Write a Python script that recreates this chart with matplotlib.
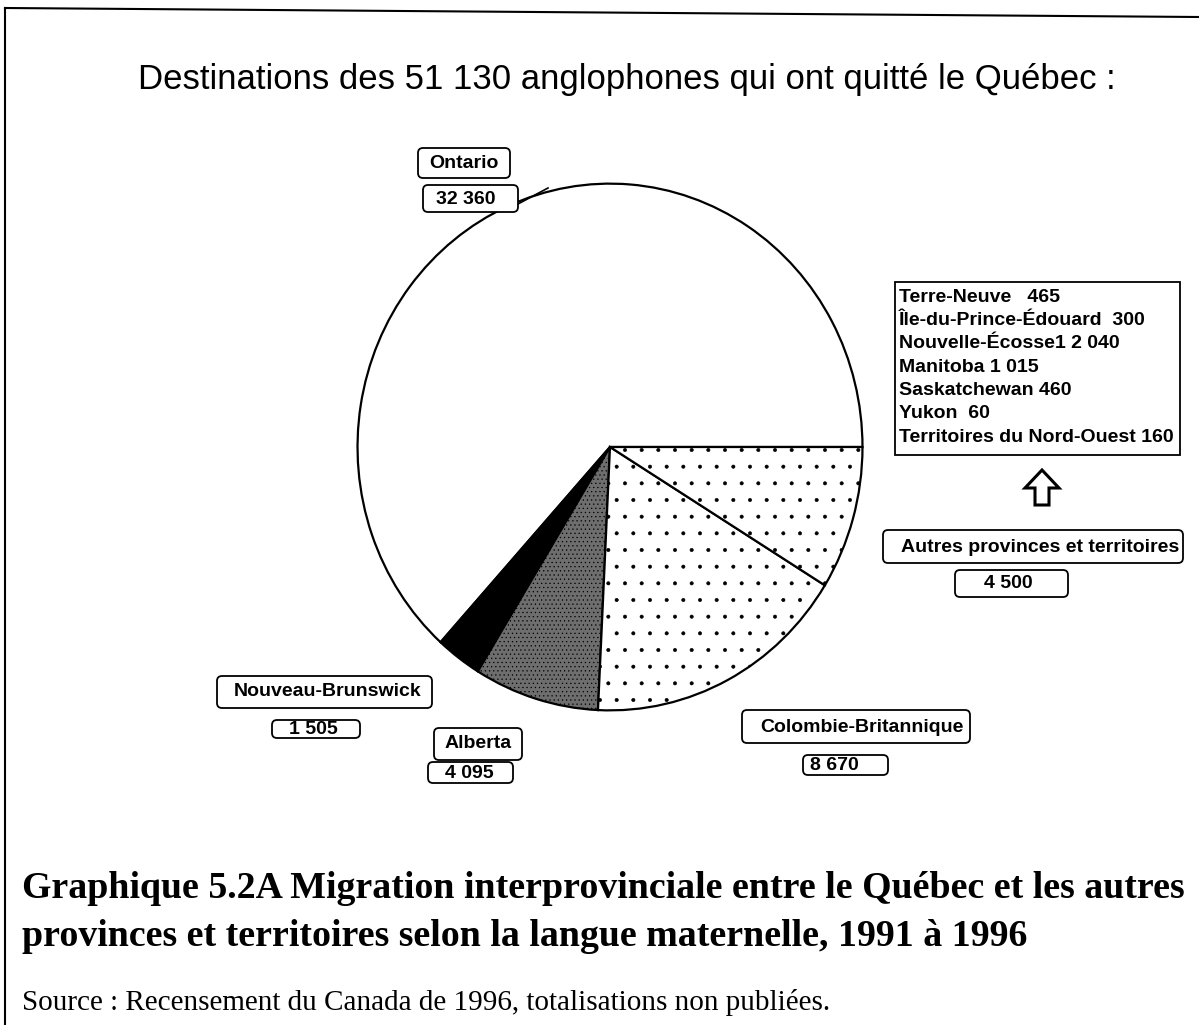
import matplotlib
matplotlib.use("Agg")
import matplotlib.pyplot as plt
from matplotlib.patches import FancyBboxPatch, Polygon, Rectangle

# ---- data ----
provinces = ["Ontario", "Nouveau-Brunswick", "Alberta", "Colombie-Britannique",
             "Autres provinces et territoires"]
values = [32360, 1505, 4095, 8670, 4500]
total = 51130
autres_lines = ["Terre-Neuve   465", "Île-du-Prince-Édouard  300",
                "Nouvelle-Écosse1 2 040", "Manitoba 1 015", "Saskatchewan 460",
                "Yukon  60", "Territoires du Nord-Ouest 160"]

def fmt(v):
    return f"{v:,}".replace(",", " ")

W, H = 1199, 1025
fig = plt.figure(figsize=(W / 100, H / 100), dpi=100)
fig.patch.set_facecolor("white")
plt.rcParams["hatch.color"] = "black"
plt.rcParams["hatch.linewidth"] = 0.4

sans = "Liberation Sans"
serif = "Liberation Serif"

# ---- pie ----
cx, cy, rx, ry = 610, 447, 255, 266
pax = fig.add_axes([(cx - rx) / W, 1 - (cy + ry) / H, 2 * rx / W, 2 * ry / H])
pax.set_zorder(1)
wedges, _ = pax.pie(values, startangle=0, counterclock=True,
                    colors=["white", "black", "#6e6e6e", "white", "white"],
                    wedgeprops=dict(edgecolor="black", linewidth=1.6))
hatches = [None, None, "....", ".", "."]
for w, h in zip(wedges, hatches):
    if h:
        w.set_hatch(h)
pax.set_aspect("auto")
pax.set_xlim(-1.01, 1.01)
pax.set_ylim(-1.01, 1.01)
pax.axis("off")

# ---- overlay for text / boxes ----
ov = fig.add_axes([0, 0, 1, 1])
ov.set_zorder(2)
ov.patch.set_alpha(0)
ov.set_xlim(0, W)
ov.set_ylim(H, 0)
ov.axis("off")

# frame (scanned page border)
ov.plot([5, 1199], [8, 17], color="black", lw=1.5)
ov.plot([5, 5], [8, 1025], color="black", lw=1.5)

ov.text(627, 80, f"Destinations des {fmt(total)} anglophones qui ont quitté le Québec :",
        ha="center", va="center", fontsize=25, family=sans)

def box(x0, y0, x1, y1, lw=1.3):
    p = FancyBboxPatch((x0, y0), x1 - x0, y1 - y0,
                       boxstyle="round,pad=0,rounding_size=5",
                       fc="white", ec="black", lw=lw, zorder=3)
    ov.add_patch(p)

def label(x0, y0, x1, y1, tx, ty, s, ha="center", fs=14):
    box(x0, y0, x1, y1)
    ov.text(tx, ty, s, ha=ha, va="center", fontsize=fs, family=sans,
            fontweight="bold", zorder=4)

# Ontario
label(418, 148, 510, 178, 464, 163, provinces[0])
label(423, 185, 518, 212, 466, 199, fmt(values[0]))
ov.plot([518, 548], [204, 188], color="black", lw=1.2)

# Nouveau-Brunswick
label(217, 676, 432, 708, 328, 692, provinces[1])
label(272, 720, 360, 738, 313, 729, fmt(values[1]))

# Alberta
label(434, 728, 522, 760, 478, 744, provinces[2])
label(428, 762, 513, 783, 469, 773, fmt(values[2]))

# Colombie-Britannique
label(742, 710, 970, 743, 862, 727, provinces[3])
label(803, 755, 888, 775, 834, 765, fmt(values[3]))

# Autres
label(883, 530, 1183, 563, 1040, 547, provinces[4])
label(955, 570, 1068, 597, 1008, 583, fmt(values[4]))

# detail box
ov.add_patch(Rectangle((895, 282), 285, 173, fc="white", ec="black", lw=1.3, zorder=3))
for i, s in enumerate(autres_lines):
    ov.text(899, 297 + i * 23.4, s, ha="left", va="center", fontsize=14,
            family=sans, fontweight="bold", zorder=4)

# hollow up arrow
arrow = Polygon([(1042, 470), (1025, 488), (1035, 488), (1035, 505),
                 (1049, 505), (1049, 488), (1059, 488)], closed=True,
                fc="white", ec="black", lw=2.2, zorder=3)
ov.add_patch(arrow)

# ---- caption ----
ov.text(22, 888, "Graphique 5.2A Migration interprovinciale entre le Québec et les autres",
        ha="left", va="center", fontsize=27.3, family=serif, fontweight="bold")
ov.text(22, 937, "provinces et territoires selon la langue maternelle, 1991 à 1996",
        ha="left", va="center", fontsize=27.3, family=serif, fontweight="bold")
ov.text(22, 1003, "Source : Recensement du Canada de 1996, totalisations non publiées.",
        ha="left", va="center", fontsize=21, family=serif)

fig.savefig("out.png", dpi=100)
